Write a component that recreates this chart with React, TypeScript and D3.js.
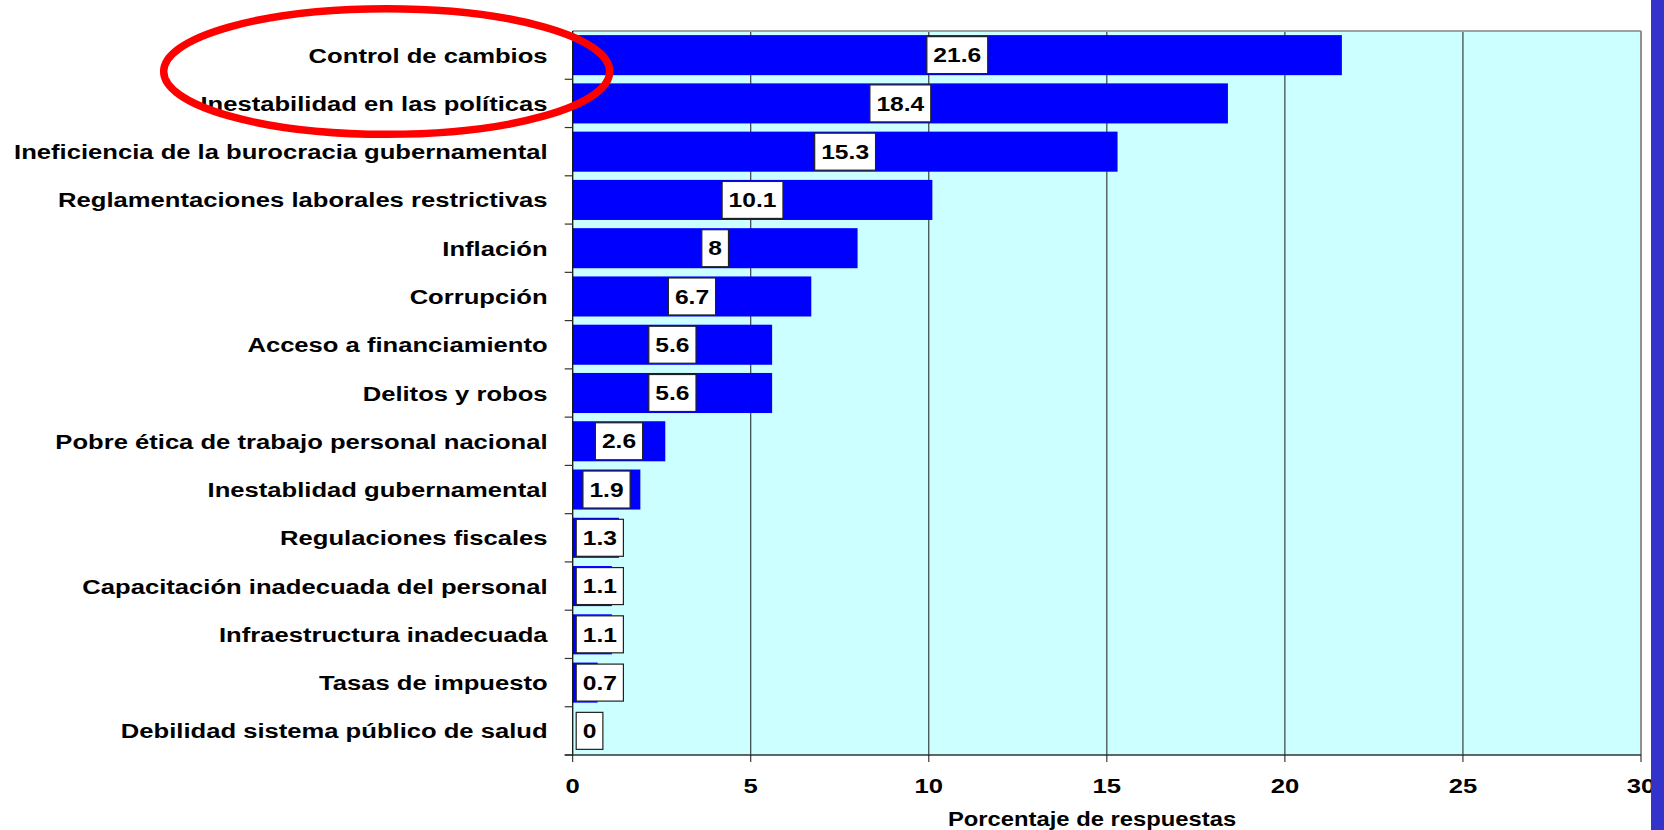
import React from 'react';
import * as d3 from 'd3';

// categories top to bottom, as in the source chart
const categories = [
  'Control de cambios',
  'Inestabilidad en las políticas',
  'Ineficiencia de la burocracia gubernamental',
  'Reglamentaciones laborales restrictivas',
  'Inflación',
  'Corrupción',
  'Acceso a financiamiento',
  'Delitos y robos',
  'Pobre ética de trabajo personal nacional',
  'Inestablidad gubernamental',
  'Regulaciones fiscales',
  'Capacitación inadecuada del personal',
  'Infraestructura inadecuada',
  'Tasas de impuesto',
  'Debilidad sistema público de salud',
];
const values = [21.6, 18.4, 15.3, 10.1, 8, 6.7, 5.6, 5.6, 2.6, 1.9, 1.3, 1.1, 1.1, 0.7, 0];
const xTicks = [0, 5, 10, 15, 20, 25, 30];
const xTitle = 'Porcentaje de respuestas';

const W = 1664;
const H = 830;
const left = 572.7;
const right = 1641;
const top = 31;
const bottom = 755;
const FONT = '"Liberation Sans", Arial, sans-serif';
const SX = 1.22; // text in the source is stretched horizontally

// rough Arial bold advance widths for the value labels
const textW = (s: string, fs: number) =>
  s.split('').reduce((a, c) => a + (c === '.' ? 0.278 : 0.556) * fs, 0);

export default function App() {
  const x = d3.scaleLinear().domain([0, 30]).range([left, right]);
  const y = d3
    .scaleBand<string>()
    .domain(categories)
    .range([top, bottom])
    .paddingInner(0.17)
    .paddingOuter(0.085);
  const boundaries = d3.range(1, categories.length + 1).map(i => top + i * (bottom - top) / categories.length);

  return (
    <svg
      width={W}
      height={H}
      style={{ position: 'absolute', left: 0, top: 0, background: '#fff' }}
      fontFamily={FONT}
      fontWeight="bold"
    >
      {/* plot background */}
      <rect x={left} y={top} width={right - left} height={bottom - top} fill="#CCFFFF" />

      {/* vertical gridlines */}
      {xTicks.slice(1, -1).map(t => (
        <line key={t} x1={x(t)} x2={x(t)} y1={top} y2={bottom} stroke="#1a1a1a" strokeWidth={1} />
      ))}

      {/* bars */}
      {categories.map((c, i) => (
        <rect
          key={c}
          x={x(0)}
          y={y(c)!}
          width={x(values[i]) - x(0)}
          height={y.bandwidth()}
          fill="#0000FF"
        />
      ))}

      {/* frame */}
      <line x1={left} x2={right} y1={top} y2={top} stroke="#A0A0A0" strokeWidth={2} />
      <line x1={right} x2={right} y1={top} y2={bottom} stroke="#909090" strokeWidth={2} />
      <line x1={left} x2={left} y1={top} y2={bottom} stroke="#111" strokeWidth={1.3} />
      <line x1={left - 8} x2={right} y1={bottom} y2={bottom} stroke="#333" strokeWidth={1.6} />

      {/* y ticks at band boundaries */}
      {boundaries.map((b, i) => (
        <line key={i} x1={left - 8} x2={left} y1={b} y2={b} stroke="#333" strokeWidth={1.2} />
      ))}

      {/* x ticks + labels */}
      {xTicks.map(t => (
        <g key={t}>
          <line x1={x(t)} x2={x(t)} y1={bottom} y2={bottom + 7} stroke="#111" strokeWidth={1} />
          <text
            transform={`translate(${x(t)},${793}) scale(${SX},1)`}
            textAnchor="middle"
            fontSize={21}
            fill="#000"
          >
            {t}
          </text>
        </g>
      ))}

      {/* category labels */}
      {categories.map(c => (
        <text
          key={c}
          transform={`translate(${547.6},${y(c)! + y.bandwidth() / 2 + 7.5}) scale(${SX},1)`}
          textAnchor="end"
          fontSize={21}
          fill="#000"
        >
          {c}
        </text>
      ))}

      {/* value labels in boxes */}
      {categories.map((c, i) => {
        const label = String(values[i]);
        const bw = textW(label, 20) * 1.23 + 13;
        const bh = 37;
        const cy = y(c)! + y.bandwidth() / 2;
        const bx = Math.max(left + 3.5, x(values[i] / 2) - bw / 2);
        return (
          <g key={c}>
            <rect x={bx} y={cy - bh / 2} width={bw} height={bh} fill="#fff" stroke="#222" strokeWidth={1.2} />
            <text
              transform={`translate(${bx + bw / 2},${cy + 7.2}) scale(1.23,1)`}
              textAnchor="middle"
              fontSize={20}
              fill="#000"
            >
              {label}
            </text>
          </g>
        );
      })}

      {/* axis title */}
      <text
        transform={`translate(${1092},${826}) scale(${SX},1)`}
        textAnchor="middle"
        fontSize={19.5}
        fill="#000"
      >
        {xTitle}
      </text>

      {/* highlight ellipse */}
      <ellipse
        cx={386.7}
        cy={71.5}
        rx={223}
        ry={62.8}
        fill="none"
        stroke="#FF0000"
        strokeWidth={7.5}
      />

      {/* side band */}
      <rect x={1651} y={0} width={W - 1651} height={H} fill="#3333CC" />
    </svg>
  );
}
